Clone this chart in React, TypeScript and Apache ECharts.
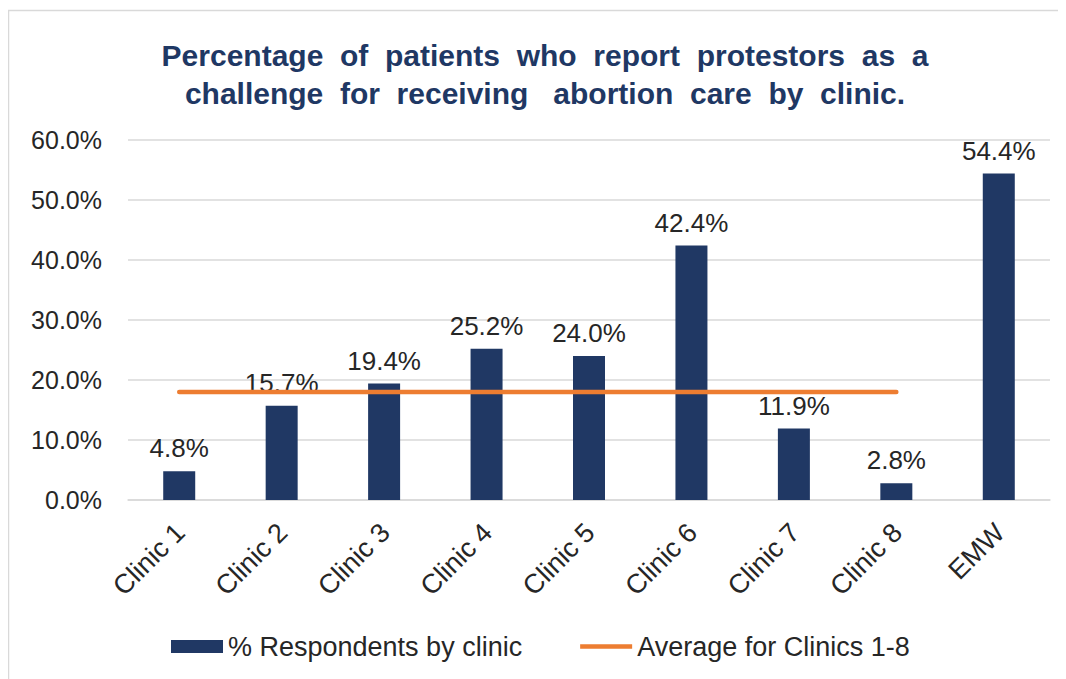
import React, { useEffect, useRef } from "react";
import * as echarts from "echarts";

const categories = ["Clinic 1", "Clinic 2", "Clinic 3", "Clinic 4", "Clinic 5", "Clinic 6", "Clinic 7", "Clinic 8", "EMW"];
const respondentValues = [4.8, 15.7, 19.4, 25.2, 24.0, 42.4, 11.9, 2.8, 54.4];
const averageValues: (number | null)[] = [18.0, 18.0, 18.0, 18.0, 18.0, 18.0, 18.0, 18.0, null];
const yTicks = { min: 0, max: 60, interval: 10 };

const titleText =
  "Percentage  of  patients  who  report  protestors  as  a\nchallenge  for  receiving   abortion  care  by  clinic.";
const FONT = "'Liberation Sans', Arial, sans-serif";

export default function App() {
  const ref = useRef<HTMLDivElement>(null);
  useEffect(() => {
    if (!ref.current) return;
    const chart = echarts.init(ref.current, undefined, { renderer: "svg" });
    chart.setOption({
      animation: false,
      backgroundColor: "#ffffff",
      graphic: [
        {
          type: "rect",
          shape: { x: 0.5, y: 2.5, width: 1200, height: 800 },
          style: { fill: "none", stroke: "#D9D9D9", lineWidth: 1.5 },
          silent: true,
        },
      ],
      title: {
        text: titleText,
        left: 532,
        textAlign: "center",
        top: 23,
        textStyle: {
          fontFamily: FONT,
          fontSize: 30,
          fontWeight: "bold",
          color: "#1F3864",
          lineHeight: 38,
        },
      },
      grid: { left: 120, right: 16, top: 132, bottom: 179, containLabel: false },
      legend: {
        bottom: 14,
        left: 158,
        itemWidth: 52,
        itemHeight: 13,
        itemGap: 58,
        textStyle: { fontFamily: FONT, fontSize: 27, color: "#262626" },
        data: [
          { name: "% Respondents by clinic", icon: "rect" },
          { name: "Average for Clinics 1-8", icon: "path://M0,0L52,0L52,4.5L0,4.5Z" },
        ],
      },
      xAxis: {
        type: "category",
        data: categories,
        axisLine: { lineStyle: { color: "#D9D9D9", width: 1.5 } },
        axisTick: { show: false },
        axisLabel: {
          rotate: 45,
          margin: 10,
          padding: [0, 12, 0, 0],
          align: "right",
          verticalAlign: "top",
          fontFamily: FONT,
          fontSize: 27,
          color: "#262626",
          interval: 0,
        },
      },
      yAxis: {
        type: "value",
        min: yTicks.min,
        max: yTicks.max,
        interval: yTicks.interval,
        axisLine: { show: false },
        axisTick: { show: false },
        splitLine: { lineStyle: { color: "#D9D9D9", width: 1.5 } },
        axisLabel: {
          margin: 26,
          fontFamily: FONT,
          fontSize: 25,
          color: "#262626",
          formatter: (v: number) => `${v.toFixed(1)}%`,
        },
      },
      series: [
        {
          name: "% Respondents by clinic",
          type: "bar",
          data: respondentValues,
          barWidth: 32,
          itemStyle: { color: "#203864" },
          label: {
            show: true,
            position: "top",
            distance: 10,
            fontFamily: FONT,
            fontSize: 26,
            color: "#262626",
            formatter: (p: any) => `${Number(p.value).toFixed(1)}%`,
          },
          z: 2,
        },
        {
          name: "Average for Clinics 1-8",
          type: "line",
          data: averageValues,
          symbol: "none",
          lineStyle: { color: "#ED7D31", width: 4.5, cap: "round" },
          itemStyle: { color: "#ED7D31" },
          z: 5,
        },
      ],
    });
    return () => chart.dispose();
  }, []);
  return <div ref={ref} style={{ width: 1058, height: 671 }} />;
}
